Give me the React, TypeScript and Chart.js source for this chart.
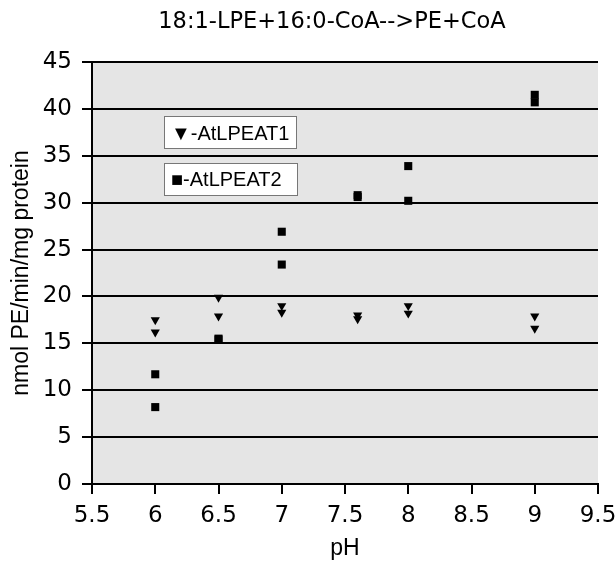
import React, { useEffect, useRef } from "react";
import { Chart, registerables } from "chart.js";

Chart.register(...registerables);

const TITLE = "18:1-LPE+16:0-CoA-->PE+CoA";
const X_TITLE = "pH";
const Y_TITLE = "nmol PE/min/mg protein";
const SERIES_NAMES = ["AtLPEAT1", "AtLPEAT2"];
const LEGEND_SYMBOLS = ["▼", "■"];

const PH_1 = [6, 6, 6.5, 6.5, 7, 7, 7.6, 7.6, 8, 8, 9, 9];
const LPEAT1 = [17.5, 16.2, 19.9, 17.9, 19.0, 18.3, 18.0, 17.6, 19.0, 18.2, 17.9, 16.6];
const PH_2 = [6, 6, 6.5, 6.5, 7, 7, 7.6, 7.6, 8, 8, 9, 9];
const LPEAT2 = [11.7, 8.2, 15.5, 15.4, 26.9, 23.4, 30.8, 30.6, 33.9, 30.2, 41.5, 40.7];

const X_MIN = 5.5;
const X_MAX = 9.5;
const X_STEP = 0.5;
const Y_MIN = 0;
const Y_MAX = 45;
const Y_STEP = 5;

const bgPlugin = {
  id: "plotBg",
  beforeDraw(chart: any) {
    const { ctx, chartArea: a } = chart;
    ctx.save();
    ctx.fillStyle = "#e5e5e5";
    ctx.fillRect(a.left, a.top, a.right - a.left, a.bottom - a.top);
    ctx.restore();
  },
};

const titlePlugin = {
  id: "customTitle",
  afterDraw(chart: any) {
    const { ctx } = chart;
    ctx.save();
    ctx.fillStyle = "#000";
    ctx.font = '22.5px "DejaVu Sans"';
    ctx.textAlign = "center";
    ctx.textBaseline = "alphabetic";
    ctx.fillText(TITLE, 332, 28);
    ctx.restore();
  },
};

const legendPlugin = {
  id: "boxLegend",
  afterDatasetsDraw(chart: any) {
    const { ctx } = chart;
    const boxes = [
      { x: 164.5, y: 116.5, w: 132, h: 32, tx: 171, ty: 140 },
      { x: 164.5, y: 163.5, w: 133, h: 32, tx: 171, ty: 186 },
    ];
    ctx.save();
    SERIES_NAMES.forEach((name, i) => {
      const b = boxes[i];
      ctx.fillStyle = "#ffffff";
      ctx.fillRect(b.x, b.y, b.w, b.h);
      ctx.strokeStyle = "#777777";
      ctx.lineWidth = 1;
      ctx.strokeRect(b.x, b.y, b.w, b.h);
      ctx.fillStyle = "#000";
      ctx.font = '20px "Liberation Sans"';
      ctx.textAlign = "left";
      ctx.textBaseline = "alphabetic";
      ctx.fillText(LEGEND_SYMBOLS[i] + "-" + name, b.tx, b.ty);
    });
    ctx.restore();
  },
};

const fmt = (v: any) => String(Number(v));

export default function App() {
  const ref = useRef<HTMLCanvasElement | null>(null);

  useEffect(() => {
    if (!ref.current) return;
    const chart = new Chart(ref.current, {
      type: "scatter",
      data: {
        datasets: [
          {
            label: SERIES_NAMES[0],
            data: PH_1.map((x, i) => ({ x, y: LPEAT1[i] })),
            pointStyle: "triangle",
            rotation: 180,
            pointRadius: 5.3,
            backgroundColor: "#000",
            borderColor: "#000",
            borderWidth: 0,
          },
          {
            label: SERIES_NAMES[1],
            data: PH_2.map((x, i) => ({ x, y: LPEAT2[i] })),
            pointStyle: "rect",
            pointRadius: 5.7,
            backgroundColor: "#000",
            borderColor: "#000",
            borderWidth: 0,
          },
        ],
      },
      options: {
        responsive: false,
        animation: false,
        layout: { padding: { top: 62, right: 18, bottom: 0, left: 0 } },
        plugins: {
          legend: { display: false },
          tooltip: { enabled: false },
          title: { display: false },
        },
        scales: {
          x: {
            type: "linear",
            min: X_MIN,
            max: X_MAX,
            ticks: {
              stepSize: X_STEP,
              color: "#000",
              padding: 8,
              font: { family: "DejaVu Sans", size: 23 },
              callback: fmt,
            },
            grid: {
              drawOnChartArea: false,
              drawTicks: true,
              tickLength: 10,
              tickColor: "#000",
              tickWidth: 2,
              color: "#000",
              lineWidth: 2,
            },
            border: { display: true, color: "#000", width: 2 },
            title: {
              display: true,
              text: X_TITLE,
              color: "#000",
              padding: { top: 0, bottom: 2 },
              font: { family: "Liberation Sans", size: 23 },
            },
            afterFit(scale: any) {
              scale.height = 80;
              scale.paddingLeft = 0;
              scale.paddingRight = 0;
            },
          },
          y: {
            type: "linear",
            min: Y_MIN,
            max: Y_MAX,
            ticks: {
              stepSize: Y_STEP,
              color: "#000",
              padding: 10,
              font: { family: "DejaVu Sans", size: 23 },
              callback: fmt,
            },
            grid: {
              drawOnChartArea: true,
              drawTicks: true,
              tickLength: 10,
              tickColor: "#000",
              tickWidth: 2,
              color: "#000",
              lineWidth: 2,
            },
            border: { display: true, color: "#000", width: 2 },
            title: {
              display: true,
              text: Y_TITLE,
              color: "#000",
              padding: { top: 8, bottom: 0 },
              font: { family: "Liberation Sans", size: 23 },
            },
            afterFit(scale: any) {
              scale.width = 92;
              scale.paddingTop = 0;
              scale.paddingBottom = 0;
            },
          },
        },
      },
      plugins: [bgPlugin, titlePlugin, legendPlugin],
    } as any);
    return () => chart.destroy();
  }, []);

  return (
    <div style={{ position: "fixed", left: 0, top: 0, width: 616, height: 564 }}>
      <canvas ref={ref} width={616} height={564} style={{ display: "block" }} />
    </div>
  );
}
